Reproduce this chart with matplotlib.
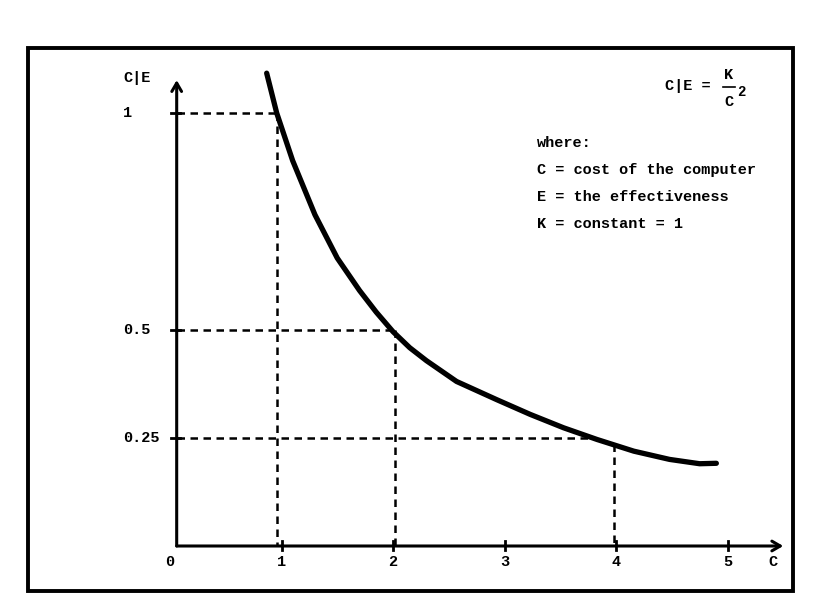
# Cost/effectiveness curve, typewriter style figure
import matplotlib.pyplot as plt
from matplotlib.patches import Rectangle
from matplotlib.lines import Line2D

plt.rcParams['font.family'] = ['Liberation Mono', 'DejaVu Sans Mono']
plt.rcParams['font.weight'] = 'bold'

# curve (C, C|E)
cost = [0.867, 0.957, 1.10, 1.30, 1.50, 1.70, 1.85, 2.00, 2.15, 2.30,
        2.57, 2.93, 3.23, 3.53, 3.83, 4.16, 4.48, 4.75, 4.90]
ce = [1.092, 1.000, 0.890, 0.765, 0.665, 0.590, 0.540, 0.495, 0.458, 0.428,
      0.380, 0.338, 0.304, 0.273, 0.246, 0.219, 0.200, 0.190, 0.191]

# dashed guide lines: horizontal at level, running out to the curve
h_levels = [1.0, 0.5, 0.25]
h_ends = [0.96, 2.00, 3.80]
# vertical drops from the curve to the C axis
v_x = [0.96, 2.02, 3.98]
v_top = [1.0, 0.5, 0.235]

x_ticks = [0, 1, 2, 3, 4, 5]
y_ticks = [1, 0.5, 0.25]
y_ticklabels = ['1', '0.5', '0.25']

legend_lines = ['where:', 'C = cost of the computer',
                'E = the effectiveness', 'K = constant = 1']

W, H = 840, 609
fig = plt.figure(figsize=(W / 100, H / 100), dpi=100)
ax = fig.add_axes([0, 0, 1, 1])
# pixel mapping: C=0 at x=170, 111.5 px per unit; C|E=0 at y=546, 433 px per unit
ax.set_xlim(-170 / 111.5, (W - 170) / 111.5)
ax.set_ylim(-(H - 546) / 433, 546 / 433)
ax.axis('off')

ink = 'black'
x0 = 0.06  # the hand-drawn vertical axis sits a bit right of C=0

# axes with open arrow heads
arrow = dict(arrowstyle='->,head_length=0.6,head_width=0.35', lw=2.2, color=ink,
             shrinkA=0, shrinkB=0)
ax.annotate('', xy=(5.50, 0), xytext=(x0, 0), arrowprops=arrow)
ax.annotate('', xy=(x0, 1.076), xytext=(x0, 0), arrowprops=arrow)

# tick marks
for xt in x_ticks[1:]:
    ax.plot([xt, xt], [-0.009, 0.012], color=ink, lw=2)
for yt in y_ticks:
    ax.plot([x0 - 0.05, x0 + 0.03], [yt, yt], color=ink, lw=2)

# dashed guides
for lev, end in zip(h_levels, h_ends):
    ax.plot([x0, end], [lev, lev], color=ink, lw=1.8, dashes=(3, 2.2))
for vx, top in zip(v_x, v_top):
    ax.plot([vx, vx], [top, 0], color=ink, lw=1.8, dashes=(3, 2.2))

# the curve
ax.plot(cost, ce, color=ink, lw=3.8, solid_capstyle='round',
        solid_joinstyle='round')

# tick labels
for xt in x_ticks:
    ax.text(xt, -0.037, str(xt), ha='center', va='center', fontsize=11, color=ink)
ax.text(5.41, -0.037, 'C', ha='center', va='center', fontsize=11, color=ink)
for yt, lab in zip(y_ticks, y_ticklabels):
    ax.text(-0.42, yt, lab, ha='left', va='center', fontsize=11, color=ink)
ax.text(-0.42, 1.081, 'C|E', ha='left', va='center', fontsize=11, color=ink)

# formula  C|E = K / C^2
fig.text(665 / W, 1 - 86 / H, 'C|E =', ha='left', va='center', fontsize=11, color=ink)
fig.text(729 / W, 1 - 75 / H, 'K', ha='center', va='center', fontsize=11, color=ink)
fig.add_artist(Line2D([723 / W, 735 / W], [1 - 87 / H, 1 - 87 / H],
                      color=ink, lw=1.2))
fig.text(729 / W, 1 - 102 / H, 'C', ha='center', va='center', fontsize=11, color=ink)
fig.text(741 / W, 1 - 92 / H, '2', ha='center', va='center', fontsize=10, color=ink)

# definitions
for i, line in enumerate(legend_lines):
    fig.text(537 / W, 1 - (143 + 27 * i) / H, line, ha='left', va='center',
             fontsize=11, color=ink)

# outer frame
fig.add_artist(Rectangle((28 / W, 1 - 591 / H), (793 - 28) / W, (591 - 48) / H,
                         fill=False, lw=2.8, edgecolor=ink,
                         transform=fig.transFigure))

fig.savefig('out.png', dpi=100, facecolor='white')
